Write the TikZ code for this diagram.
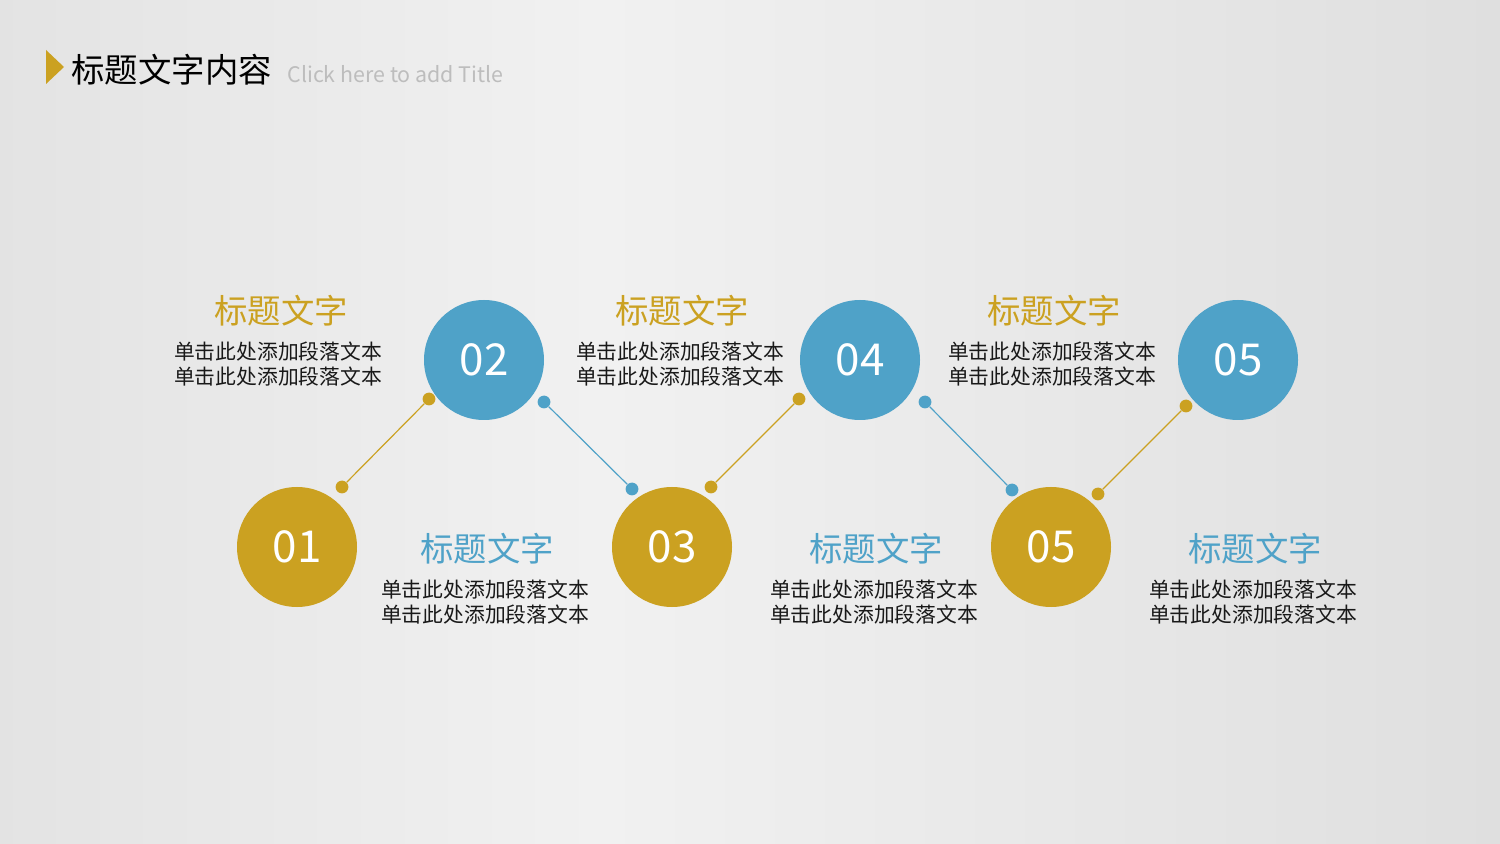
\documentclass[tikz,border=0pt]{standalone}
\usepackage{fontspec}
\setmainfont{Noto Sans CJK SC}
\definecolor{gold}{HTML}{CBA121}
\definecolor{blu}{HTML}{4FA2C8}
\definecolor{bgA}{HTML}{D2D2D2}
\definecolor{bgB}{HTML}{F1F1F1}
\definecolor{bgC}{HTML}{D0D0D0}
\definecolor{subgray}{HTML}{BDBDBD}
\pgfdeclarehorizontalshading{bgshade}{100bp}{color(0bp)=(bgA); color(45bp)=(bgB); color(100bp)=(bgC)}
\tikzset{
  bignum/.style={circle,inner sep=0pt,minimum size=60pt,text=white,font=\fontsize{22}{22}\selectfont},
  golddisc/.style={bignum,fill=gold},
  bluedisc/.style={bignum,fill=blu},
  dotnode/.style={circle,inner sep=0pt,minimum size=6.4pt},
  gdot/.style={dotnode,fill=gold},
  bdot/.style={dotnode,fill=blu},
  gline/.style={draw=gold,line width=0.6pt},
  bline/.style={draw=blu,line width=0.6pt},
  ttl/.style={inner sep=0pt,font=\fontsize{16.7}{18}\selectfont},
  gttl/.style={ttl,text=gold},
  bttl/.style={ttl,text=blu},
  body/.style={inner sep=0pt,align=center,text=black!90,font=\fontsize{10.4}{12.5}\selectfont}
}
\begin{document}
\begin{tikzpicture}[x=0.5pt,y=-0.5pt]
\shade[shading=bgshade] (0,0) rectangle (1500,844);
\useasboundingbox (0,0) rectangle (1500,844);
% header
\fill[gold] (46,50) -- (64,67) -- (46,84) -- cycle;
\node[anchor=west,inner sep=0pt,font=\fontsize{16.7}{18}\selectfont] (htitle) at (71,70) {标题文字内容};
\node[anchor=west,inner sep=0pt,text=subgray,font=\fontsize{10.7}{12}\selectfont] (hsub) at (287,74) {Click here to add Title};
% discs
\node[golddisc] (c1) at (297,547) {01};
\node[bluedisc] (c2) at (484,360) {02};
\node[golddisc] (c3) at (672,547) {03};
\node[bluedisc] (c4) at (860,360) {04};
\node[golddisc] (c5) at (1051,547) {05};
\node[bluedisc] (c6) at (1238,360) {05};
% dots
\node[gdot] (d1a) at (342,487) {};
\node[gdot] (d1b) at (429,399) {};
\node[bdot] (d2a) at (544,402) {};
\node[bdot] (d2b) at (632,489) {};
\node[gdot] (d3a) at (711,487) {};
\node[gdot] (d3b) at (799,399) {};
\node[bdot] (d4a) at (925,402) {};
\node[bdot] (d4b) at (1012,490) {};
\node[gdot] (d5a) at (1098,494) {};
\node[gdot] (d5b) at (1186,406) {};
\draw[gline] (d1a) -- (d1b);
\draw[bline] (d2a) -- (d2b);
\draw[gline] (d3a) -- (d3b);
\draw[bline] (d4a) -- (d4b);
\draw[gline] (d5a) -- (d5b);
% top texts
\node[gttl] (t1) at (281,311) {标题文字};
\node[body] (b1) at (278,364.5) {单击此处添加段落文本\\单击此处添加段落文本};
\node[gttl] (t2) at (682,311) {标题文字};
\node[body] (b2) at (680,364.5) {单击此处添加段落文本\\单击此处添加段落文本};
\node[gttl] (t3) at (1054,311) {标题文字};
\node[body] (b3) at (1052,364.5) {单击此处添加段落文本\\单击此处添加段落文本};
% bottom texts
\node[bttl] (t4) at (487,549) {标题文字};
\node[body] (b4) at (485,602.5) {单击此处添加段落文本\\单击此处添加段落文本};
\node[bttl] (t5) at (876,549) {标题文字};
\node[body] (b5) at (874,602.5) {单击此处添加段落文本\\单击此处添加段落文本};
\node[bttl] (t6) at (1255,549) {标题文字};
\node[body] (b6) at (1253,602.5) {单击此处添加段落文本\\单击此处添加段落文本};
\end{tikzpicture}
\end{document}
